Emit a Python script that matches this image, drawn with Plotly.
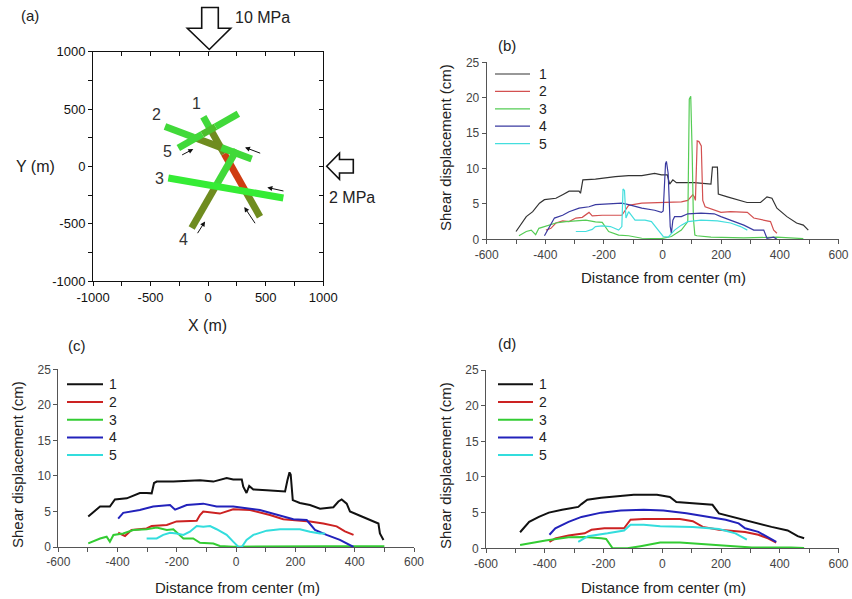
import numpy as np
import plotly.graph_objects as go

W, H = 852, 599
FONT = "Liberation Sans, Arial, sans-serif"

# ---------------- panel (a): fracture traces (m) ----------------
frac_names = ["1", "2", "3", "4", "5"]
frac_x0 = [-42, -375, -346, -143, -259]
frac_y0 = [433, 348, -102, -538, 160]
frac_x1 = [450, 378, 653, 248, 262]
frac_y1 = [-439, 64, -276, 145, 459]
# displacement colouring along each fracture (fraction of length)
frac_breaks = [[0, 0.12, 0.37, 0.73, 1.0], [0, 0.33, 0.65, 1.0], [0, 1.0], [0, 0.55, 1.0], [0, 0.4, 0.62, 1.0]]
frac_levels = [["g", "o", "r", "o"], ["g", "o", "g"], ["b"], ["o", "g"], ["g", "d", "g"]]
label_x = [-100, -447, -424, -216, -355]
label_y = [552, 450, -102, -634, 130]
arrow_tail_x = [465, 667, 416, -100, -239]
arrow_tail_y = [110, -218, -509, -596, 93]
arrow_head_x = [320, 514, 314, -27, -129]
arrow_head_y = [165, -184, -355, -480, 151]

# ---------------- panel (b) ----------------
b1_x = [-500, -465, -443, -420, -403, -364, -341, -319, -285, -280, -272, -229, -161, -116, -71, -27, -4, 16, 24, 35, 47, 108, 165, 170, 187, 190, 221, 255, 288, 334, 356, 373, 390, 424, 457, 480, 497]
b1_y = [1.1, 3.2, 3.9, 5.1, 5.6, 5.8, 6.3, 6.8, 6.8, 6.5, 8.4, 8.5, 8.85, 9.0, 9.0, 9.3, 9.1, 9.1, 7.8, 8.4, 8.0, 8.0, 7.8, 10.2, 10.2, 6.4, 6.0, 5.6, 5.2, 5.2, 6.0, 5.8, 4.4, 3.2, 2.3, 2.0, 1.3]
b2_x = [-398, -381, -364, -341, -319, -296, -274, -251, -240, -206, -139, -116, -71, -4, 64, 86, 103, 108, 112, 118, 124, 132, 137, 145, 199, 232, 289, 311, 345, 368, 379, 390]
b2_y = [1.3, 1.55, 2.3, 2.6, 2.5, 3.0, 3.1, 3.8, 3.3, 3.4, 3.4, 4.8, 5.1, 5.2, 5.3, 5.5, 6.3, 6.0, 5.5, 13.9, 13.8, 13.2, 5.5, 4.6, 3.8, 3.9, 3.8, 3.0, 2.7, 2.5, 1.3, 0.85]
b3_x = [-490, -465, -448, -433, -422, -403, -364, -330, -296, -262, -229, -206, -184, -150, -116, -71, -4, 30, 64, 86, 91, 96, 101, 105, 110, 117, 165, 277, 390, 480]
b3_y = [0.5, 1.1, 1.3, 0.66, 1.55, 1.8, 2.3, 2.5, 2.6, 2.7, 2.45, 2.4, 1.1, 0.6, 0.5, 0.15, 0.1, 0.4, 1.3, 2.5, 19.8, 20.2, 12.0, 3.0, 0.6, 0.5, 0.3, 0.2, 0.3, 0.1]
b4_x = [-403, -386, -369, -341, -319, -285, -251, -229, -184, -139, -116, -71, -27, -4, 2, 10, 13, 19, 26, 30, 35, 41, 64, 86, 131, 176, 199, 244, 277, 311, 345, 356, 379, 390]
b4_y = [0.5, 1.8, 3.0, 3.4, 3.9, 4.4, 4.6, 4.9, 5.0, 5.1, 4.9, 4.4, 4.1, 3.8, 4.0, 10.7, 11.0, 9.3, 1.8, 0.85, 2.7, 3.2, 3.2, 3.6, 3.7, 3.6, 3.2, 2.5, 2.0, 1.3, 1.3, 0.15, 0.3, 0.0]
b5_x = [-296, -262, -240, -229, -206, -178, -150, -139, -135, -130, -125, -116, -94, -60, -38, -15, 2, 19, 41, 64, 86, 131, 187, 232, 266, 289]
b5_y = [1.1, 1.1, 1.4, 1.8, 1.9, 1.8, 1.3, 1.8, 7.1, 6.9, 3.0, 3.9, 2.7, 2.7, 2.5, 1.3, 0.4, 0.3, 1.3, 2.0, 2.5, 2.7, 2.6, 2.3, 1.8, 1.3]

# ---------------- panel (c) ----------------
c1_x = [-499, -471, -459, -426, -409, -369, -347, -325, -302, -285, -277, -268, -212, -167, -122, -77, -32, -10, 19, 24, 35, 44, 58, 103, 165, 173, 180, 184, 191, 215, 249, 283, 328, 345, 356, 373, 384, 418, 452, 480, 485, 497]
c1_y = [4.3, 5.2, 5.7, 5.7, 6.7, 6.85, 7.2, 7.6, 7.6, 7.55, 9.0, 9.2, 9.2, 9.3, 9.4, 9.2, 9.7, 9.5, 9.5, 8.5, 7.6, 8.6, 8.1, 8.0, 7.8, 9.4, 10.5, 10.2, 6.6, 6.2, 5.9, 5.4, 5.6, 6.4, 6.7, 6.1, 5.0, 4.4, 3.8, 3.3, 1.9, 1.0]
c2_x = [-398, -375, -353, -302, -285, -234, -201, -133, -122, -111, -55, -10, 47, 114, 159, 204, 249, 294, 339, 367, 396]
c2_y = [2.0, 1.55, 2.4, 2.6, 2.95, 3.1, 3.6, 3.7, 4.5, 5.0, 4.7, 5.3, 5.2, 4.5, 3.9, 3.8, 3.6, 3.3, 2.9, 2.2, 1.7]
c3_x = [-499, -459, -437, -426, -414, -381, -347, -302, -268, -234, -212, -195, -178, -145, -122, -77, -55, -10, 100, 200, 300, 400, 500]
c3_y = [0.5, 1.2, 1.45, 0.75, 1.7, 1.9, 2.4, 2.5, 2.75, 2.4, 2.5, 1.9, 1.2, 1.2, 0.6, 0.5, 0.15, 0.05, 0.1, 0.1, 0.1, 0.1, 0.1]
c4_x = [-398, -381, -325, -280, -223, -206, -167, -111, -66, -10, 80, 148, 193, 238, 266, 305, 350, 396]
c4_y = [4.0, 4.8, 5.2, 5.7, 5.9, 5.25, 5.9, 6.1, 5.7, 5.7, 5.2, 4.4, 3.9, 3.8, 2.4, 1.7, 1.0, 0.0]
c5_x = [-302, -268, -246, -223, -201, -178, -156, -133, -111, -88, -66, -32, -10, 7, 19, 35, 58, 103, 148, 215, 249, 283, 300]
c5_y = [1.2, 1.2, 1.7, 2.0, 1.9, 1.7, 2.15, 2.95, 2.85, 2.95, 2.5, 1.7, 0.75, 0.05, 0.0, 1.0, 1.7, 2.3, 2.5, 2.5, 2.15, 1.9, 1.9]

# ---------------- panel (d) ----------------
d1_x = [-484, -453, -420, -386, -341, -286, -275, -255, -208, -141, -97, -18, 26, 48, 104, 171, 193, 238, 305, 372, 427, 461, 483]
d1_y = [2.25, 3.7, 4.4, 5.0, 5.4, 5.8, 6.2, 6.8, 7.1, 7.4, 7.5, 7.5, 7.2, 6.5, 6.3, 6.1, 4.9, 4.4, 3.7, 3.0, 2.5, 1.7, 1.4]
d2_x = [-384, -364, -319, -264, -241, -197, -130, -108, -63, 60, 104, 138, 193, 282, 327, 360, 388]
d2_y = [0.9, 1.4, 1.8, 2.1, 2.6, 2.8, 2.8, 4.0, 4.1, 4.1, 3.8, 3.0, 2.6, 2.3, 1.9, 1.4, 0.8]
d3_x = [-484, -397, -319, -264, -208, -191, -169, -119, -74, -7, 60, 160, 238, 305, 438, 483]
d3_y = [0.45, 1.1, 1.55, 1.6, 1.4, 1.3, 0.0, 0.0, 0.3, 0.8, 0.8, 0.55, 0.3, 0.1, 0.1, 0.05]
d4_x = [-384, -364, -319, -275, -208, -141, -63, 4, 82, 160, 216, 260, 282, 327, 360, 388]
d4_y = [1.9, 2.8, 3.7, 4.4, 5.0, 5.3, 5.4, 5.3, 4.9, 4.4, 4.0, 3.5, 2.8, 2.3, 1.6, 0.9]
d5_x = [-286, -253, -186, -130, -108, -63, -7, 104, 193, 249, 288]
d5_y = [0.9, 1.7, 2.1, 2.5, 3.3, 3.3, 3.1, 3.0, 2.7, 2.1, 1.2]

series_names = ["1", "2", "3", "4", "5"]
x_ticks = [-600, -400, -200, 0, 200, 400, 600]
x_ticktext = ["-600", "-400", "-200", "0", "200", "400", "600"]
x_minor = [-500, -300, -100, 100, 300, 500]
y_ticks = [0, 5, 10, 15, 20, 25]
a_ticks = [-1000, -500, 0, 500, 1000]
a_ticktext = ["-1000", "-500", "0", "500", "1000"]
a_minor = [-750, -250, 250, 750]

# ---------------- styling ----------------
frac_col = {"g": "#41d93a", "o": "#6f8c1f", "r": "#cf3c12", "b": "#35ec35", "d": "#4cbf2c"}
col_b = ["#333333", "#d35050", "#55cc55", "#3a3aa0", "#44dede"]
col_cd = ["#111111", "#cc2222", "#33cc33", "#2222bb", "#33dddd"]


def px(p):
    return p / W


def py(p):
    return 1 - p / H


fig = go.Figure()

# panel (a)
for i in [0, 1, 4, 3, 2]:
    br = frac_breaks[i]
    for k in range(len(br) - 1):
        t = np.array([br[k], br[k + 1]])
        xs = frac_x0[i] + t * (frac_x1[i] - frac_x0[i])
        ys = frac_y0[i] + t * (frac_y1[i] - frac_y0[i])
        fig.add_trace(go.Scatter(x=xs, y=ys, mode="lines",
                                 line=dict(color=frac_col[frac_levels[i][k]], width=7),
                                 xaxis="x", yaxis="y", showlegend=False, hoverinfo="skip"))
fig.add_trace(go.Scatter(x=[0], y=[0], mode="markers", marker=dict(opacity=0),
                         xaxis="x5", yaxis="y5", showlegend=False, hoverinfo="skip"))

panels = [
    ("2", [b1_x, b2_x, b3_x, b4_x, b5_x], [b1_y, b2_y, b3_y, b4_y, b5_y], col_b, 1.2),
    ("3", [c1_x, c2_x, c3_x, c4_x, c5_x], [c1_y, c2_y, c3_y, c4_y, c5_y], col_cd, 2.0),
    ("4", [d1_x, d2_x, d3_x, d4_x, d5_x], [d1_y, d2_y, d3_y, d4_y, d5_y], col_cd, 2.0),
]
for ax, xs_list, ys_list, cols, lw in panels:
    for j in range(5):
        fig.add_trace(go.Scatter(x=xs_list[j], y=ys_list[j], mode="lines", name=series_names[j],
                                 line=dict(color=cols[j], width=lw),
                                 xaxis="x" + ax, yaxis="y" + ax, showlegend=False, hoverinfo="skip"))

annotations = []
shapes = []

# fracture labels and shear arrows
for i in range(5):
    annotations.append(dict(x=label_x[i], y=label_y[i], xref="x", yref="y", text=frac_names[i],
                            showarrow=False, font=dict(size=16, color="#333333", family=FONT)))
    annotations.append(dict(x=arrow_head_x[i], y=arrow_head_y[i], ax=arrow_tail_x[i], ay=arrow_tail_y[i],
                            xref="x", yref="y", axref="x", ayref="y", text="", showarrow=True,
                            arrowhead=2, arrowsize=1, arrowwidth=1, arrowcolor="#111111"))

# hollow loading arrows (pixel outlines)
top_arrow = [(201.7, 7.5), (218.3, 7.5), (218.3, 28.3), (230.7, 28.3), (209.3, 49.5), (187.3, 28.3), (201.7, 28.3)]
right_arrow = [(353.3, 159.5), (339.5, 159.5), (339.5, 153.3), (326.7, 166.3), (339.5, 179.3), (339.5, 173.0), (353.3, 173.0)]
for poly in [top_arrow, right_arrow]:
    path = "M " + " L ".join(f"{px(a):.5f},{py(b):.5f}" for a, b in poly) + " Z"
    shapes.append(dict(type="path", xref="paper", yref="paper", path=path,
                       line=dict(color="#111111", width=1.6), fillcolor="white"))

# free texts: (text, x px, y px, size, angle)
texts = [("(a)", 30, 15, 15, 0), ("10 MPa", 262, 18, 16, 0), ("2 MPa", 352, 197, 16, 0),
         ("Y (m)", 35, 166, 16, 0), ("X (m)", 207, 325, 16, 0),
         ("(b)", 507, 45, 15, 0), ("(c)", 77, 345, 15, 0), ("(d)", 507, 343, 15, 0),
         ("Distance from center (m)", 663, 278, 15, 0), ("Shear displacement (cm)", 445, 148, 15, -90),
         ("Distance from center (m)", 237, 587, 15, 0), ("Shear displacement (cm)", 17, 465, 15, -90),
         ("Distance from center (m)", 663, 587, 15, 0), ("Shear displacement (cm)", 445, 466, 15, -90)]
for t, x0, y0, fs, ang in texts:
    annotations.append(dict(x=px(x0), y=py(y0), xref="paper", yref="paper", text=t, showarrow=False,
                            textangle=ang, xanchor="center", yanchor="middle",
                            font=dict(size=fs, color="#222222", family=FONT)))

# legends (b), (c), (d)
leg_specs = [(495, 530, 537, 74.0, 17.4, col_b, 1.2), (67, 103, 107, 384.3, 17.7, col_cd, 2.0),
             (498, 533, 537, 384.3, 17.7, col_cd, 2.0)]
for x0, x1, xt, y0, dy, cols, lw in leg_specs:
    for j in range(5):
        yy = y0 + j * dy
        shapes.append(dict(type="line", xref="paper", yref="paper", x0=px(x0), x1=px(x1), y0=py(yy), y1=py(yy),
                           line=dict(color=cols[j], width=lw)))
        annotations.append(dict(x=px(xt), y=py(yy), xref="paper", yref="paper", text=series_names[j],
                                showarrow=False, xanchor="left", yanchor="middle",
                                font=dict(size=14, color="#222222", family=FONT)))

gray = "#555555"


def curve_axes(xdom, ydom, anchor_x, anchor_y):
    xa = dict(domain=xdom, anchor=anchor_y, range=[-600, 600], tickvals=x_ticks, ticktext=x_ticktext,
              ticks="outside", ticklen=4, automargin=False, ticklabeloverflow="allow",
              tickcolor=gray, showline=True, linecolor=gray, linewidth=1, showgrid=False, zeroline=False,
              minor=dict(tickvals=x_minor, ticks="outside", ticklen=4, tickcolor=gray),
              tickfont=dict(size=12, color="#444444", family=FONT))
    ya = dict(domain=ydom, anchor=anchor_x, range=[0, 25], tickvals=y_ticks, ticks="outside", ticklen=4,
              automargin=False, ticklabeloverflow="allow",
              tickcolor=gray, showline=True, linecolor=gray, linewidth=1, showgrid=False, zeroline=False,
              tickfont=dict(size=12, color="#444444", family=FONT))
    return xa, ya


xa2, ya2 = curve_axes([px(486.7), px(838.5)], [py(239.3), py(62.3)], "x2", "y2")
xa3, ya3 = curve_axes([px(58.3), px(414)], [py(547), py(369.3)], "x3", "y3")
xa4, ya4 = curve_axes([px(486), px(838.5)], [py(548.3), py(370)], "x4", "y4")

a_common = dict(range=[-1000, 1000], tickvals=a_ticks, ticktext=a_ticktext, ticks="outside", ticklen=4,
                tickcolor="#111111", automargin=False, ticklabeloverflow="allow",
                showline=True, linecolor="#111111", linewidth=1, mirror=True, showgrid=False, zeroline=False,
                minor=dict(tickvals=a_minor, ticks="outside", ticklen=4, tickcolor="#111111"),
                tickfont=dict(size=13, color="#111111", family=FONT))
xa1 = dict(domain=[px(93), px(323.3)], anchor="y", **a_common)
ya1 = dict(domain=[py(281), py(51.7)], anchor="x", **a_common)
in_common = dict(range=[-1000, 1000], tickvals=a_ticks + a_minor, ticks="inside", ticklen=4, tickcolor="#111111",
                 showticklabels=False, showline=False, showgrid=False, zeroline=False, automargin=False)
xa5 = dict(overlaying="x", anchor="y", side="top", **in_common)
ya5 = dict(overlaying="y", anchor="x", side="right", **in_common)

fig.update_layout(
    width=W, height=H, autosize=False, margin=dict(l=0, r=0, t=0, b=0, pad=0),
    paper_bgcolor="white", plot_bgcolor="white", showlegend=False,
    font=dict(family=FONT, color="#222222"),
    xaxis=xa1, yaxis=ya1, xaxis2=xa2, yaxis2=ya2, xaxis3=xa3, yaxis3=ya3, xaxis4=xa4, yaxis4=ya4,
    xaxis5=xa5, yaxis5=ya5,
    annotations=annotations, shapes=shapes,
)

fig.write_html("out.html")
